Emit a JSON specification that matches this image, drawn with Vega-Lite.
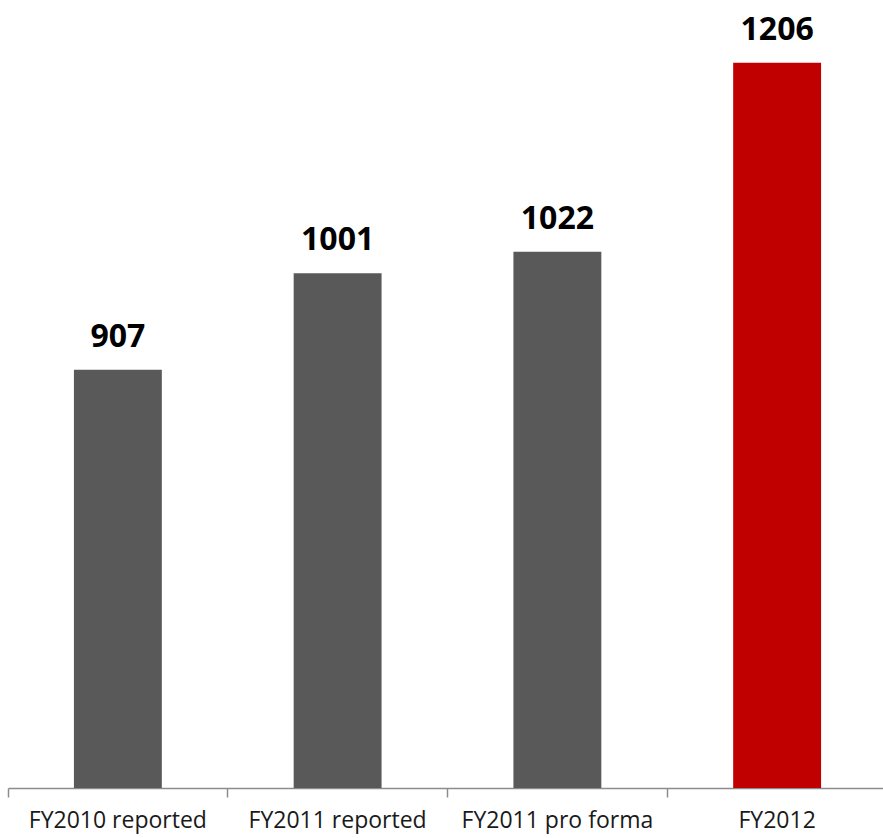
{
  "$schema": "https://vega.github.io/schema/vega-lite/v6.json",
  "width": 879,
  "height": 788,
  "autosize": "none",
  "padding": {"left": 8, "top": 0, "right": 0, "bottom": 50},
  "background": "white",
  "config": {"view": {"stroke": null}},
  "data": {"values": [
    {"cat": "FY2010 reported", "value": 907},
    {"cat": "FY2011 reported", "value": 1001},
    {"cat": "FY2011 pro forma", "value": 1022},
    {"cat": "FY2012", "value": 1206}
  ]},
  "encoding": {
    "x": {"field": "cat", "type": "nominal", "sort": null,
      "scale": {"paddingInner": 0.6, "paddingOuter": 0.3},
      "axis": {"title": null, "labelAngle": 0, "bandPosition": -0.75, "labelLimit": 400, "domainColor": "#8c8c8c", "tickColor": "#8c8c8c", "tickSize": 9, "domainWidth": 1.5, "tickWidth": 1.5, "labelFont": "Open Sans", "labelFontSize": 23, "labelColor": "#1a1a1a", "labelPadding": 12}},
    "y": {"field": "value", "type": "quantitative",
      "scale": {"domain": [500, 1267], "zero": false, "nice": false},
      "axis": null}
  },
  "layer": [
    {"mark": {"type": "bar", "clip": true},
     "encoding": {
       "y2": {"datum": 500},
       "color": {"condition": {"test": "datum.cat === 'FY2012'", "value": "#C00000"}, "value": "#595959"}
     }},
    {"mark": {"type": "text", "baseline": "bottom", "dy": -16, "font": "Open Sans", "fontWeight": "bold", "fontSize": 32, "color": "#000000"},
     "encoding": {"text": {"field": "value", "type": "quantitative"}}}
  ]
}
